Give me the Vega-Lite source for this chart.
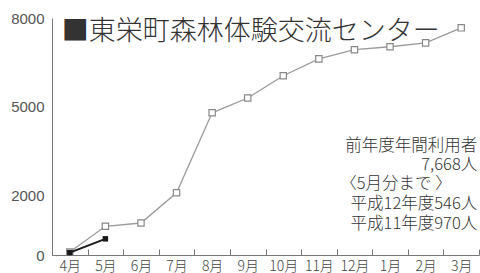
{
  "$schema": "https://vega.github.io/schema/vega-lite/v6.json",
  "width": 427,
  "height": 237,
  "autosize": "none",
  "padding": {"left": 52, "top": 18, "right": 1, "bottom": 18},
  "background": "white",
  "config": {"view": {"stroke": null}, "font": "Noto Sans CJK JP"},
  "data": {
    "values": [
      {"month": "4月", "series": "平成11年度", "users": 100},
      {"month": "5月", "series": "平成11年度", "users": 970},
      {"month": "6月", "series": "平成11年度", "users": 1080},
      {"month": "7月", "series": "平成11年度", "users": 2100},
      {"month": "8月", "series": "平成11年度", "users": 4800},
      {"month": "9月", "series": "平成11年度", "users": 5300},
      {"month": "10月", "series": "平成11年度", "users": 6050},
      {"month": "11月", "series": "平成11年度", "users": 6620},
      {"month": "12月", "series": "平成11年度", "users": 6930},
      {"month": "1月", "series": "平成11年度", "users": 7030},
      {"month": "2月", "series": "平成11年度", "users": 7160},
      {"month": "3月", "series": "平成11年度", "users": 7668},
      {"month": "4月", "series": "平成12年度", "users": 80},
      {"month": "5月", "series": "平成12年度", "users": 546}
    ]
  },
  "layer": [
    {
      "transform": [{"filter": "datum.series === '平成11年度'"}],
      "mark": {"type": "line", "color": "#9a9a9a", "strokeWidth": 1.3},
      "encoding": {
        "x": {
          "field": "month",
          "type": "ordinal",
          "bandPosition": 0.5,
          "scale": {
            "type": "band",
            "domain": ["4月", "5月", "6月", "7月", "8月", "9月", "10月", "11月", "12月", "1月", "2月", "3月"],
            "paddingInner": 0,
            "paddingOuter": 0
          },
          "axis": {
            "title": null,
            "tickBand": "extent",
            "tickSize": -6,
            "tickColor": "#777",
            "domainColor": "#777",
            "labelAngle": 0,
            "labelFontSize": 14,
            "labelFontWeight": 300,
            "labelColor": "#444",
            "labelPadding": 10,
            "grid": false
          }
        },
        "y": {
          "field": "users",
          "type": "quantitative",
          "scale": {"domain": [0, 8000], "nice": false},
          "axis": {
            "title": null,
            "values": [0, 2000, 5000, 8000],
            "format": "d",
            "ticks": false,
            "grid": false,
            "domainColor": "#777",
            "labelFont": "Liberation Sans",
            "labelFontSize": 15,
            "labelColor": "#555",
            "labelPadding": 8,
            "labelFlush": false,
            "labelOverlap": false
          }
        }
      }
    },
    {
      "transform": [{"filter": "datum.series === '平成11年度'"}],
      "mark": {"type": "point", "shape": "square", "filled": true, "fill": "white", "stroke": "#888", "strokeWidth": 1.2, "size": 40, "opacity": 1},
      "encoding": {
        "x": {"field": "month", "type": "ordinal", "bandPosition": 0.5},
        "y": {"field": "users", "type": "quantitative"}
      }
    },
    {
      "transform": [{"filter": "datum.series === '平成12年度'"}],
      "mark": {"type": "line", "color": "#1a1a1a", "strokeWidth": 2},
      "encoding": {
        "x": {"field": "month", "type": "ordinal", "bandPosition": 0.5},
        "y": {"field": "users", "type": "quantitative"}
      }
    },
    {
      "transform": [{"filter": "datum.series === '平成12年度'"}],
      "mark": {"type": "point", "shape": "square", "filled": true, "color": "#1a1a1a", "size": 30, "opacity": 1},
      "encoding": {
        "x": {"field": "month", "type": "ordinal", "bandPosition": 0.5},
        "y": {"field": "users", "type": "quantitative"}
      }
    },
    {
      "transform": [{"filter": "datum.series === '平成12年度' && datum.month === '4月'"}],
      "mark": {"type": "text", "align": "left", "baseline": "middle", "fontSize": 27, "fontWeight": 300, "color": "#333", "dx": -8, "text": "■東栄町森林体験交流センター"},
      "encoding": {
        "x": {"field": "month", "type": "ordinal", "bandPosition": 0.5},
        "y": {"datum": 7530}
      }
    },
    {
      "transform": [{"filter": "datum.series === '平成11年度' && datum.month === '3月'"}],
      "mark": {"type": "text", "align": "right", "baseline": "top", "fontSize": 16.5, "fontWeight": 300, "color": "#333", "dx": 16, "dy": 0, "text": "前年度年間利用者"},
      "encoding": {
        "x": {"field": "month", "type": "ordinal", "bandPosition": 0.5},
        "y": {"datum": 3950}
      }
    },
    {
      "transform": [{"filter": "datum.series === '平成11年度' && datum.month === '3月'"}],
      "mark": {"type": "text", "align": "right", "baseline": "top", "fontSize": 16.5, "fontWeight": 300, "color": "#333", "dx": 16, "dy": 19, "text": "7,668人"},
      "encoding": {
        "x": {"field": "month", "type": "ordinal", "bandPosition": 0.5},
        "y": {"datum": 3950}
      }
    },
    {
      "transform": [{"filter": "datum.series === '平成11年度' && datum.month === '3月'"}],
      "mark": {"type": "text", "align": "left", "baseline": "top", "fontSize": 16.5, "fontWeight": 300, "color": "#333", "dx": -121, "dy": 38.5, "text": "〈5月分まで 〉"},
      "encoding": {
        "x": {"field": "month", "type": "ordinal", "bandPosition": 0.5},
        "y": {"datum": 3950}
      }
    },
    {
      "transform": [{"filter": "datum.series === '平成11年度' && datum.month === '3月'"}],
      "mark": {"type": "text", "align": "right", "baseline": "top", "fontSize": 16.5, "fontWeight": 300, "color": "#333", "dx": 16, "dy": 58.5, "text": "平成12年度546人"},
      "encoding": {
        "x": {"field": "month", "type": "ordinal", "bandPosition": 0.5},
        "y": {"datum": 3950}
      }
    },
    {
      "transform": [{"filter": "datum.series === '平成11年度' && datum.month === '3月'"}],
      "mark": {"type": "text", "align": "right", "baseline": "top", "fontSize": 16.5, "fontWeight": 300, "color": "#333", "dx": 16, "dy": 78, "text": "平成11年度970人"},
      "encoding": {
        "x": {"field": "month", "type": "ordinal", "bandPosition": 0.5},
        "y": {"datum": 3950}
      }
    }
  ]
}
